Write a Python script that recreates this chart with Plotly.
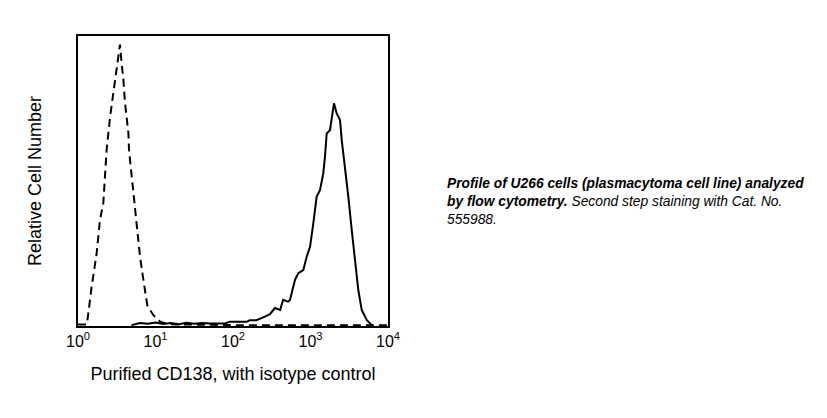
import plotly.graph_objects as go

# Isotype control (dashed) histogram
iso_x = [1.0, 1.3, 1.36, 1.5, 1.74, 1.92, 2.12, 2.34, 2.59, 3.0, 3.31, 3.48, 3.66, 3.85, 4.04,
         4.47, 4.55, 4.93, 5.43, 5.83, 6.31, 6.97, 7.83, 9.33, 11.5, 15, 30, 100, 1000, 10000]
iso_y = [0.5, 0.5, 4.4, 13.6, 25, 36.5, 42.3, 60.7, 72, 85, 94, 97, 90.5, 85, 77,
         66.5, 60.7, 51.5, 41, 32, 24, 16, 7.2, 3.8, 1.5, 0.6, 0.4, 0.3, 0.3, 0.3]

# Purified CD138 (solid) histogram
cd_x = [4.9, 6.3, 8, 10, 12.6, 15.8, 20, 25, 31.6, 40, 50, 63, 79, 91, 151, 166, 200, 245, 300,
        347, 406, 443, 511, 543, 631, 696, 807, 893, 986, 1087, 1202, 1327, 1462, 1538, 1618,
        1786, 1878, 2009, 2178, 2404, 2529, 2787, 3076, 3404, 3750, 4138, 4581, 5309, 6166]
cd_y = [0.3, 1.0, 0.8, 1.2, 0.7, 1.0, 0.6, 1.1, 0.8, 1.0, 0.9, 1.0, 0.9, 1.5, 1.5, 2.0, 2.0, 3.0, 4.1,
        6.2, 5.5, 9.0, 8.4, 9.0, 15.9, 18.2, 19.3, 23.9, 27.3, 35.4, 44.6, 46.9, 52.6, 58.4, 66.4,
        67.6, 72.2, 76.8, 73.3, 71.0, 64.1, 54.9, 44.6, 33.1, 21.6, 12.4, 5.5, 2.1, 0.3]

tick_vals = [1, 10, 100, 1000, 10000]
tick_text = ["10<sup>0</sup>", "10<sup>1</sup>", "10<sup>2</sup>", "10<sup>3</sup>", "10<sup>4</sup>"]

fig = go.Figure()
fig.add_trace(go.Scatter(x=iso_x, y=iso_y, mode="lines",
                         line=dict(color="black", width=2, dash="8px,5px"), showlegend=False))
fig.add_trace(go.Scatter(x=cd_x, y=cd_y, mode="lines",
                         line=dict(color="black", width=2), showlegend=False))

fig.update_layout(
    width=827, height=418,
    margin=dict(l=70, r=447, t=28, b=100),
    paper_bgcolor="white", plot_bgcolor="white",
    font=dict(family="Liberation Sans, Arial, sans-serif", color="black"),
    xaxis=dict(type="log", range=[0, 4], tickvals=tick_vals, ticktext=tick_text,
               automargin=False,
               showgrid=False, zeroline=False, showline=True, mirror=True,
               linecolor="black", linewidth=2, ticks="", tickfont=dict(size=16),
               title=dict(text="Purified CD138, with isotype control", font=dict(size=18), standoff=18)),
    yaxis=dict(range=[0, 100], showticklabels=False, showgrid=False, zeroline=False,
               automargin=False,
               showline=True, mirror=True, linecolor="black", linewidth=2, ticks="",
               title=dict(text="Relative Cell Number", font=dict(size=18), standoff=30)),
)

fig.add_annotation(
    xref="paper", yref="paper", x=1.183, y=0.525, xanchor="left", yanchor="top",
    align="left", showarrow=False,
    font=dict(size=13.8, family="Liberation Sans, Arial, sans-serif", color="black"),
    text=("<b><i>Profile of U266 cells (plasmacytoma cell line) analyzed</i></b><br>"
          "<b><i>by flow cytometry.</i></b><i> Second step staining with Cat. No.</i><br>"
          "<i>555988.</i>"),
)

fig.write_html("out.html")
